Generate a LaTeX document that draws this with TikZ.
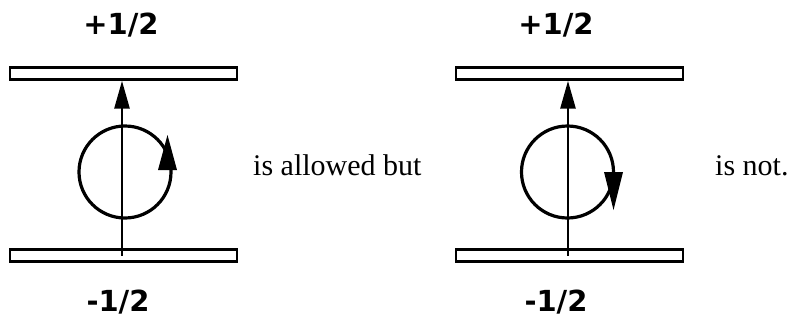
\documentclass[tikz,border=0pt]{standalone}
\usepackage{fontspec}
\setmainfont{Liberation Serif}
\newfontfamily\labfont{DejaVu Sans}
\usetikzlibrary{arrows.meta}
\tikzset{
  bar/.style={draw, line width=2.4pt, minimum width=227pt, minimum height=12pt, inner sep=0pt},
  spinlab/.style={font=\labfont\bfseries\fontsize{29}{29}\selectfont, inner sep=0pt},
  txt/.style={font=\fontsize{30}{30}\selectfont, inner sep=0pt, anchor=base west},
  ring/.style={draw, circle, line width=3.2pt, minimum size=92pt, inner sep=0pt},
  axis/.style={line width=2.8pt, -{Triangle[width=15pt,length=28pt]}},
  tipfill/.style={fill=black}
}
\begin{document}
\begin{tikzpicture}[x=1pt,y=-1pt]
\useasboundingbox (0,0) rectangle (796,325);
% left figure
\node[bar] (topL) at (123.5,73.5) {};
\node[bar] (botL) at (123.5,255.5) {};
\node[spinlab] (pL) at (121,25) {+1/2};
\node[spinlab] (mL) at (118,302) {-1/2};
\node[ring] (cL) at (125,172) {};
\draw[axis] (122,255.5) coordinate (aL) -- (aL |- topL.south);
\fill[tipfill] (167.5,135) -- (177,170) -- (158,170) -- cycle;
\node[txt] (t1) at (253,175) {is allowed but};
% right figure
\node[bar] (topR) at (569.5,73.5) {};
\node[bar] (botR) at (569.5,255.5) {};
\node[spinlab] (pR) at (556,25) {+1/2};
\node[spinlab] (mR) at (556,302) {-1/2};
\node[ring] (cR) at (567.5,172) {};
\draw[axis] (568,255.5) coordinate (aR) -- (aR |- topR.south);
\fill[tipfill] (613.5,210) -- (604,172) -- (623,172) -- cycle;
\node[txt] (t2) at (715,175) {is not.};
\end{tikzpicture}
\end{document}
